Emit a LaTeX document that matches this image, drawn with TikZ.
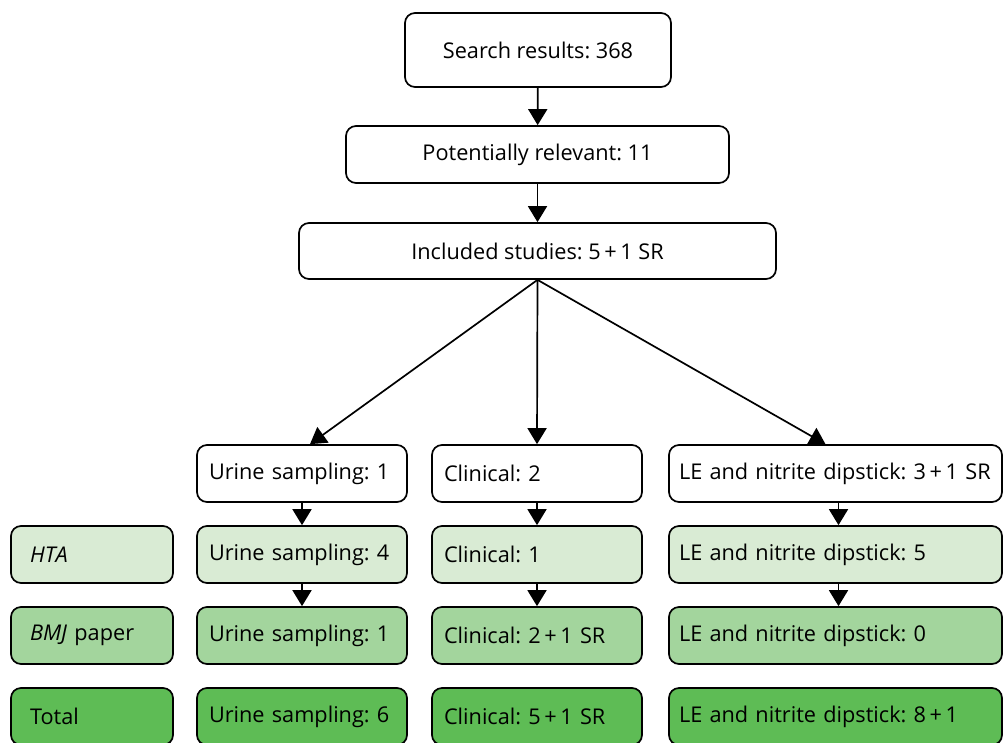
\documentclass[tikz,border=0pt]{standalone}
\usepackage{fontspec}
\setmainfont{Open Sans}
\usetikzlibrary{arrows.meta}
\definecolor{paleg}{HTML}{D9EBD4}
\definecolor{midg}{HTML}{A3D59D}
\definecolor{darkg}{HTML}{5EBC55}
\frenchspacing

\begin{document}
\begin{tikzpicture}[x=1pt,y=-1pt,>={Triangle[width=19pt,length=16pt]},line width=1.7pt,
  font=\fontsize{21.7}{25}\selectfont,
  topbox/.style={draw,rounded corners=10pt,minimum width=#1,minimum height=57pt,align=center},
  rowbox/.style={draw,rounded corners=10pt,minimum height=57pt,inner xsep=12pt,text width=#1,align=left},
  widebox/.style={draw,rounded corners=10pt,minimum height=57pt,inner xsep=10pt,text width=313pt,align=left},
  labbox/.style={draw,rounded corners=10pt,minimum height=57pt,inner xsep=19pt,text width=124pt,align=left}]
  \path[use as bounding box,clip] (0,0) rectangle (1003,742);
  % top part
  \node[topbox=266pt,minimum height=74pt] (search) at (538,50) {Search results: 368};
  \node[topbox=383pt] (relevant) at (537.5,154.5) {Potentially relevant: 11};
  \node[topbox=477pt,minimum height=56pt] (included) at (537.5,251) {Included studies: 5\,+\,1 SR};
  % columns
  \node[rowbox=186pt] (urine1) at (302,473.5) {Urine sampling: 1};
  \node[rowbox=186pt] (clin1) at (537,473.5) {Clinical: 2};
  \node[widebox] (dip1) at (835.5,473.5) {LE and nitrite dipstick: 3\,+\,1 SR};
  \node[labbox,fill=paleg] (hta) at (92,554.5) {\textit{HTA}};
  \node[rowbox=186pt,fill=paleg] (urine2) at (302,554.5) {Urine sampling: 4};
  \node[rowbox=186pt,fill=paleg] (clin2) at (537,554.5) {Clinical: 1};
  \node[widebox,fill=paleg] (dip2) at (835.5,554.5) {LE and nitrite dipstick: 5};
  \node[labbox,fill=midg] (bmj) at (92,635.5) {\textit{BMJ} paper};
  \node[rowbox=186pt,fill=midg] (urine3) at (302,635.5) {Urine sampling: 1};
  \node[rowbox=186pt,fill=midg] (clin3) at (537,635.5) {Clinical: 2\,+\,1 SR};
  \node[widebox,fill=midg] (dip3) at (835.5,635.5) {LE and nitrite dipstick: 0};
  \node[labbox,fill=darkg] (total) at (92,716.5) {Total};
  \node[rowbox=186pt,fill=darkg] (urine4) at (302,716.5) {Urine sampling: 6};
  \node[rowbox=186pt,fill=darkg] (clin4) at (537,716.5) {Clinical: 5\,+\,1 SR};
  \node[widebox,fill=darkg] (dip4) at (835.5,716.5) {LE and nitrite dipstick: 8\,+\,1};
  % arrows
  \draw[->] (search) -- (relevant);
  \draw[->] (relevant) -- (included);
  \draw[->] (included.south) -- ([xshift=8pt]urine1.north);
  \draw[->] (included.south) -- (clin1.north);
  \draw[->] (included.south) -- ([xshift=-10pt]dip1.north);
  \draw[->] (urine1) -- (urine2);
  \draw[->] (urine2) -- (urine3);
  \draw[->] (clin1) -- (clin2);
  \draw[->] (clin2) -- (clin3);
  \draw[->] ([xshift=3pt]dip1.south) -- ([xshift=3pt]dip2.north);
  \draw[->] ([xshift=3pt]dip2.south) -- ([xshift=3pt]dip3.north);
\end{tikzpicture}
\end{document}
